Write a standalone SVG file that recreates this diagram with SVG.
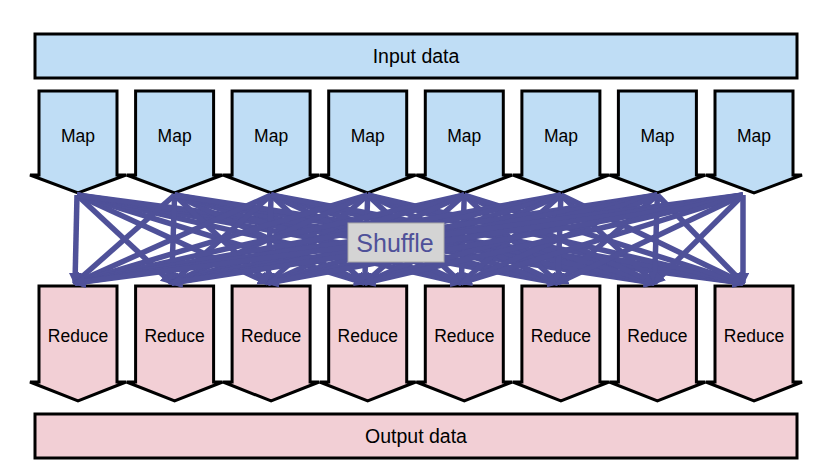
<svg xmlns="http://www.w3.org/2000/svg" width="818" height="475" viewBox="0 0 818 475">
<style>
.map{fill:#BFDDF5;stroke:#000;stroke-width:3;stroke-linejoin:miter}
.red{fill:#F2CFD5;stroke:#000;stroke-width:3;stroke-linejoin:miter}
.lbl{font-family:"Liberation Sans",Arial,sans-serif;font-size:17.5px;fill:#000;text-anchor:middle}
.big{font-family:"Liberation Sans",Arial,sans-serif;font-size:19.5px;fill:#000;text-anchor:middle}
.sh line{stroke:#4F5199;stroke-width:5.5;marker-end:url(#ah)}
</style>
<defs>
<marker id="ah" viewBox="0 0 10 10" refX="8" refY="5" markerWidth="2.3" markerHeight="2.3" orient="auto">
<path d="M0,0 L10,5 L0,10 Z" fill="#4F5199"/>
</marker>
<path id="mapShape" d="M-39,91 H39 V175 H48 L0,193 L-48,175 H-39 Z"/>
<path id="redShape" d="M-39,286 H39 V382 H48 L0,401 L-48,382 H-39 Z"/>
</defs>
<rect width="818" height="475" fill="#fff"/>
<g id="input"><rect x="35" y="34" width="762" height="44" class="map"/><text x="416" y="63" class="big">Input data</text></g>
<g id="output"><rect x="35" y="414" width="762" height="44" class="red"/><text x="416" y="443" class="big">Output data</text></g>
<g id="map1" transform="translate(78,0)"><use href="#mapShape" class="map"/><text x="0" y="142" class="lbl">Map</text></g>
<g id="map2" transform="translate(174.6,0)"><use href="#mapShape" class="map"/><text x="0" y="142" class="lbl">Map</text></g>
<g id="map3" transform="translate(271.1,0)"><use href="#mapShape" class="map"/><text x="0" y="142" class="lbl">Map</text></g>
<g id="map4" transform="translate(367.7,0)"><use href="#mapShape" class="map"/><text x="0" y="142" class="lbl">Map</text></g>
<g id="map5" transform="translate(464.3,0)"><use href="#mapShape" class="map"/><text x="0" y="142" class="lbl">Map</text></g>
<g id="map6" transform="translate(560.9,0)"><use href="#mapShape" class="map"/><text x="0" y="142" class="lbl">Map</text></g>
<g id="map7" transform="translate(657.4,0)"><use href="#mapShape" class="map"/><text x="0" y="142" class="lbl">Map</text></g>
<g id="map8" transform="translate(754,0)"><use href="#mapShape" class="map"/><text x="0" y="142" class="lbl">Map</text></g>
<g id="red1" transform="translate(78,0)"><use href="#redShape" class="red"/><text x="0" y="342" class="lbl">Reduce</text></g>
<g id="red2" transform="translate(174.6,0)"><use href="#redShape" class="red"/><text x="0" y="342" class="lbl">Reduce</text></g>
<g id="red3" transform="translate(271.1,0)"><use href="#redShape" class="red"/><text x="0" y="342" class="lbl">Reduce</text></g>
<g id="red4" transform="translate(367.7,0)"><use href="#redShape" class="red"/><text x="0" y="342" class="lbl">Reduce</text></g>
<g id="red5" transform="translate(464.3,0)"><use href="#redShape" class="red"/><text x="0" y="342" class="lbl">Reduce</text></g>
<g id="red6" transform="translate(560.9,0)"><use href="#redShape" class="red"/><text x="0" y="342" class="lbl">Reduce</text></g>
<g id="red7" transform="translate(657.4,0)"><use href="#redShape" class="red"/><text x="0" y="342" class="lbl">Reduce</text></g>
<g id="red8" transform="translate(754,0)"><use href="#redShape" class="red"/><text x="0" y="342" class="lbl">Reduce</text></g>
<g id="connectors" class="sh">
<line x1="77" y1="195" x2="75" y2="283"/><line x1="77" y1="195" x2="171.6" y2="283"/><line x1="77" y1="195" x2="268.1" y2="283"/><line x1="77" y1="195" x2="364.7" y2="283"/><line x1="77" y1="195" x2="461.3" y2="283"/><line x1="77" y1="195" x2="557.9" y2="283"/><line x1="77" y1="195" x2="654.4" y2="283"/><line x1="77" y1="195" x2="743" y2="283"/>
<line x1="174.6" y1="195" x2="75" y2="283"/><line x1="174.6" y1="195" x2="171.6" y2="283"/><line x1="174.6" y1="195" x2="268.1" y2="283"/><line x1="174.6" y1="195" x2="364.7" y2="283"/><line x1="174.6" y1="195" x2="461.3" y2="283"/><line x1="174.6" y1="195" x2="557.9" y2="283"/><line x1="174.6" y1="195" x2="654.4" y2="283"/><line x1="174.6" y1="195" x2="743" y2="283"/>
<line x1="271.1" y1="195" x2="75" y2="283"/><line x1="271.1" y1="195" x2="171.6" y2="283"/><line x1="271.1" y1="195" x2="268.1" y2="283"/><line x1="271.1" y1="195" x2="364.7" y2="283"/><line x1="271.1" y1="195" x2="461.3" y2="283"/><line x1="271.1" y1="195" x2="557.9" y2="283"/><line x1="271.1" y1="195" x2="654.4" y2="283"/><line x1="271.1" y1="195" x2="743" y2="283"/>
<line x1="367.7" y1="195" x2="75" y2="283"/><line x1="367.7" y1="195" x2="171.6" y2="283"/><line x1="367.7" y1="195" x2="268.1" y2="283"/><line x1="367.7" y1="195" x2="364.7" y2="283"/><line x1="367.7" y1="195" x2="461.3" y2="283"/><line x1="367.7" y1="195" x2="557.9" y2="283"/><line x1="367.7" y1="195" x2="654.4" y2="283"/><line x1="367.7" y1="195" x2="743" y2="283"/>
<line x1="464.3" y1="195" x2="75" y2="283"/><line x1="464.3" y1="195" x2="171.6" y2="283"/><line x1="464.3" y1="195" x2="268.1" y2="283"/><line x1="464.3" y1="195" x2="364.7" y2="283"/><line x1="464.3" y1="195" x2="461.3" y2="283"/><line x1="464.3" y1="195" x2="557.9" y2="283"/><line x1="464.3" y1="195" x2="654.4" y2="283"/><line x1="464.3" y1="195" x2="743" y2="283"/>
<line x1="560.9" y1="195" x2="75" y2="283"/><line x1="560.9" y1="195" x2="171.6" y2="283"/><line x1="560.9" y1="195" x2="268.1" y2="283"/><line x1="560.9" y1="195" x2="364.7" y2="283"/><line x1="560.9" y1="195" x2="461.3" y2="283"/><line x1="560.9" y1="195" x2="557.9" y2="283"/><line x1="560.9" y1="195" x2="654.4" y2="283"/><line x1="560.9" y1="195" x2="743" y2="283"/>
<line x1="657.4" y1="195" x2="75" y2="283"/><line x1="657.4" y1="195" x2="171.6" y2="283"/><line x1="657.4" y1="195" x2="268.1" y2="283"/><line x1="657.4" y1="195" x2="364.7" y2="283"/><line x1="657.4" y1="195" x2="461.3" y2="283"/><line x1="657.4" y1="195" x2="557.9" y2="283"/><line x1="657.4" y1="195" x2="654.4" y2="283"/><line x1="657.4" y1="195" x2="743" y2="283"/>
<line x1="743" y1="195" x2="75" y2="283"/><line x1="743" y1="195" x2="171.6" y2="283"/><line x1="743" y1="195" x2="268.1" y2="283"/><line x1="743" y1="195" x2="364.7" y2="283"/><line x1="743" y1="195" x2="461.3" y2="283"/><line x1="743" y1="195" x2="557.9" y2="283"/><line x1="743" y1="195" x2="654.4" y2="283"/><line x1="743" y1="195" x2="743" y2="283"/>
</g>
<g id="shuffle"><rect x="348" y="223" width="96" height="39" fill="#D4D4D4" stroke="#A8A8A8" stroke-width="1"/><text x="395" y="252" font-family="'Liberation Sans',Arial,sans-serif" font-size="25" fill="#4F5199" text-anchor="middle">Shuffle</text></g>
</svg>
